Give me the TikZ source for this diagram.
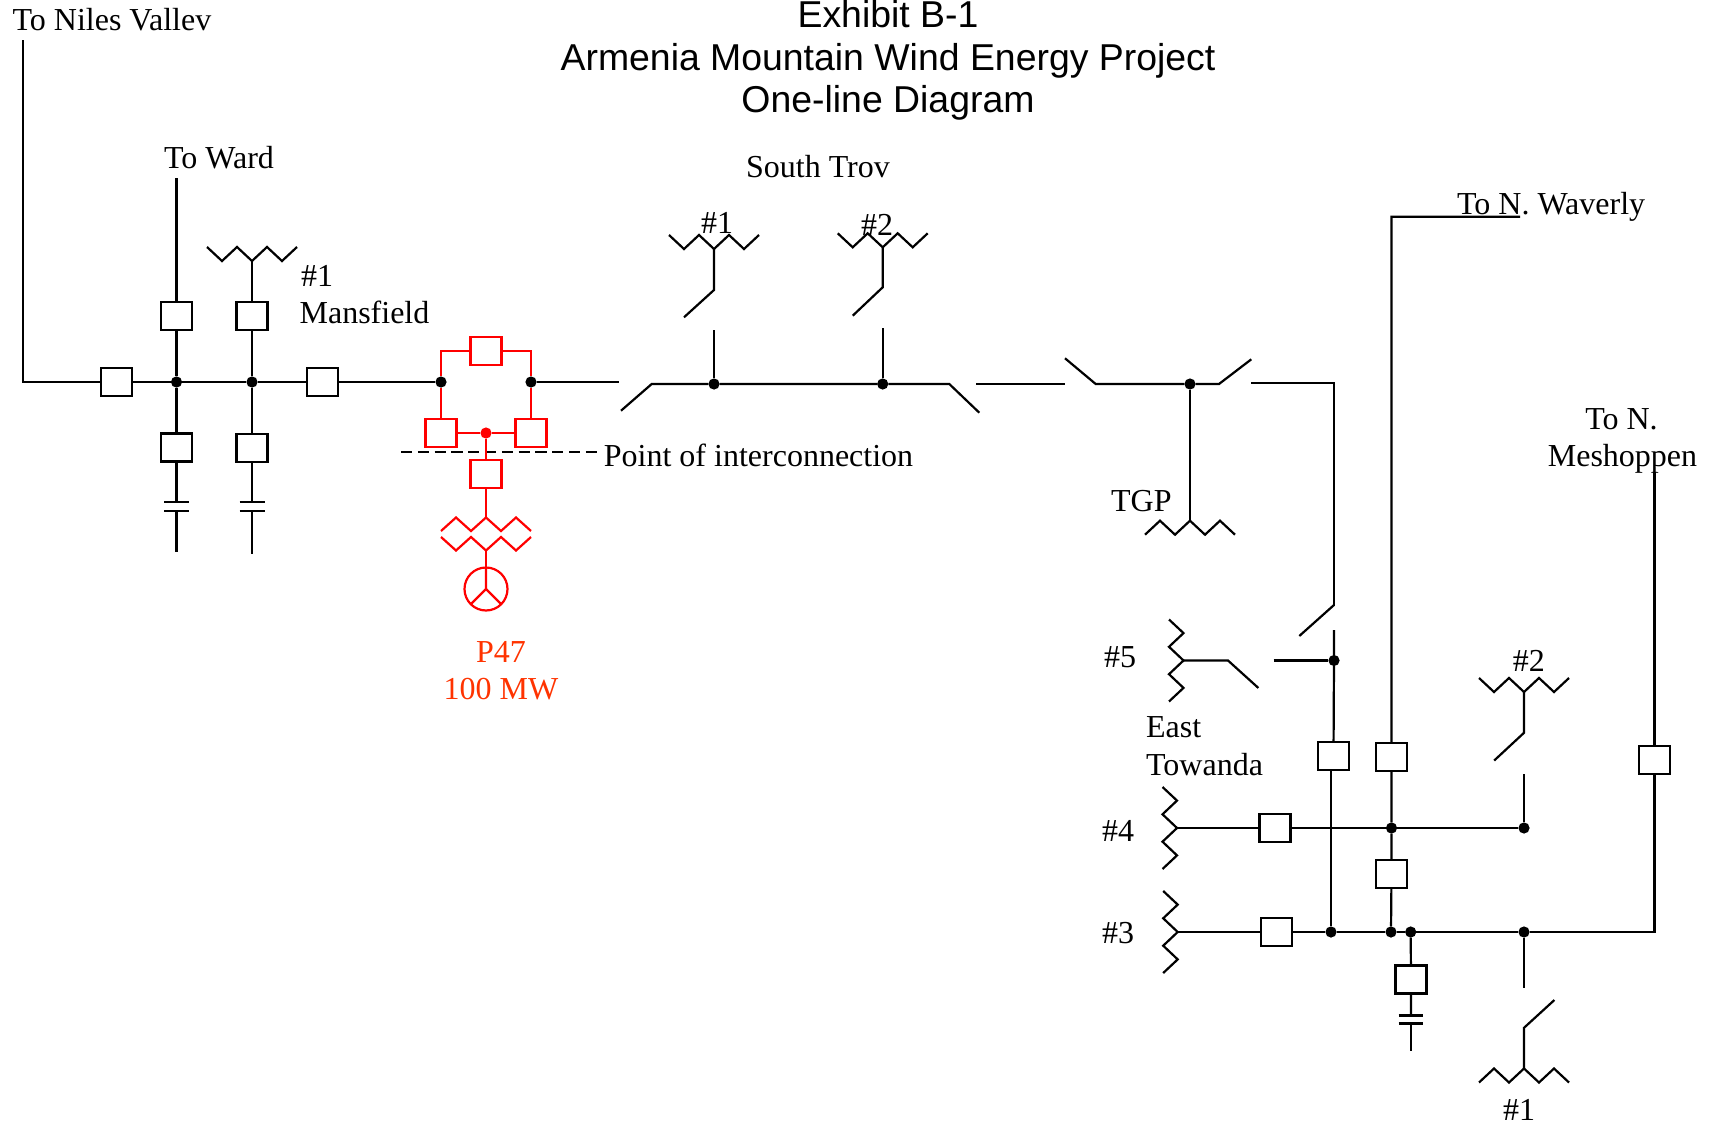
\documentclass[tikz,border=0pt]{standalone}
\usepackage{fontspec}
\setmainfont{Liberation Serif}
\newfontfamily\titlefont{Liberation Sans}
\definecolor{pred}{RGB}{255,0,0}
\definecolor{plabel}{RGB}{255,51,0}
\tikzset{
  every path/.style={line width=1.1pt},
  brk/.style={draw, fill=white, line width=1.1pt, minimum width=15.5pt, minimum height=14pt, inner sep=0pt, outer sep=0pt},
  jdot/.style={circle, fill=black, inner sep=0pt, outer sep=0pt, minimum size=5.6pt},
  lbl/.style={inner sep=0pt, anchor=base west, font=\fontsize{16pt}{18pt}\selectfont},
  ttl/.style={inner sep=0pt, anchor=base, font=\titlefont\fontsize{18.7pt}{21pt}\selectfont},
  xfmr/.pic={\draw (-45,-14)--(-30,0)--(-15,-14)--(0,0)--(15,-14)--(30,0)--(45,-14);},
  xfmrv/.pic={\draw (-41,-14.5)--(-27.4,0)--(-13.7,-14.5)--(0,0)--(13.7,-14.5)--(27.4,0)--(41,-14.5);},
}
\begin{document}
\begin{tikzpicture}[x=0.5pt,y=-0.5pt]
\useasboundingbox (0,0) rectangle (1709,1124);
% ---------- title ----------
\node[ttl] (t1) at (888,27) {Exhibit B-1};
\node[ttl] (t2) at (888,70) {Armenia Mountain Wind Energy Project};
\node[ttl] (t3) at (888,112) {One-line Diagram};
% ---------- Mansfield ----------
\node[lbl] (lnv) at (11.5,30.6) {To Niles Vallev};
\node[lbl] (lward) at (163,168) {To Ward};
\node[lbl] (lm1) at (300,286) {\#1};
\node[lbl] (lmans) at (298.5,323) {Mansfield};
\coordinate (nv) at (23,40);
\coordinate (nvc) at (23,382);
\node[brk] (bA) at (116.5,382) {};
\node[jdot] (d1) at (176.5,382) {};
\node[jdot] (d2) at (252,382) {};
\node[brk] (bB) at (322.5,382) {};
\node[jdot] (rl) at (441,382) {};
\node[jdot] (rr) at (531,382) {};
\draw (nv) -- (nvc) -- (bA) -- (d1) -- (d2) -- (bB) -- (rl);
\coordinate (tw) at (176.5,178);
\node[brk] (bC) at (176.5,316) {};
\node[brk] (bE) at (176.5,447.5) {};
\coordinate (c1t) at (176.5,502);
\coordinate (c1b) at (176.5,511);
\coordinate (c1e) at (176.5,552);
\draw (tw) -- (bC) -- (d1) -- (bE) -- (c1t);
\draw (164,502) -- (189,502) (164,511) -- (189,511);
\draw (c1b) -- (c1e);
\coordinate (m1x) at (252,261);
\pic at (m1x) {xfmr};
\node[brk] (bF) at (252,316) {};
\node[brk] (bG) at (252,448) {};
\coordinate (c2t) at (252,502);
\coordinate (c2b) at (252,511);
\coordinate (c2e) at (252,554);
\draw (m1x) -- (bF) -- (d2) -- (bG) -- (c2t);
\draw (239.5,502) -- (264.5,502) (239.5,511) -- (264.5,511);
\draw (c2b) -- (c2e);
% ---------- P47 (red) ----------
\node[brk, draw=pred] (rT) at (486,351) {};
\node[brk, draw=pred] (rL) at (441,433) {};
\node[brk, draw=pred] (rR) at (531,433) {};
\node[jdot, fill=pred] (rc) at (486,433) {};
\node[brk, draw=pred] (rG) at (486,474) {};
\coordinate (poiL) at (401,452.3);
\coordinate (poiR) at (600,452.3);
\draw[line width=0.9pt, dash pattern=on 5.6pt off 2.8pt] (poiL) -- (poiR);
\node[lbl] (lpoi) at (602.8,466.7) {Point of interconnection};
\draw[pred] (rl) |- (rT);
\draw[pred] (rT) -| (rr);
\draw[pred] (rl) -- (rL);
\draw[pred] (rr) -- (rR);
\draw[pred] (rL) -- (rc) -- (rR);
\draw[pred] (rc) -- (rG);
\coordinate (gzt) at (486,517.5);
\coordinate (gzb) at (486,550.5);
\draw[pred] (rG) -- (gzt);
\draw[pred] (441,531)--(456,517.5)--(471,531)--(486,517.5)--(501,531)--(516,517.5)--(531,531);
\draw[pred] (441,537)--(456,550.5)--(471,537)--(486,550.5)--(501,537)--(516,550.5)--(531,537);
\node[circle, draw=pred, line width=1.1pt, minimum size=21.5pt, inner sep=0pt, outer sep=0pt] (gen) at (486,589) {};
\draw[pred] (gzb) -- (gen.north);
\draw[pred] (gen.north) -- (gen.center) -- (gen.-135);
\draw[pred] (gen.center) -- (gen.-45);
\node[inner sep=0pt, anchor=base, font=\fontsize{16pt}{18pt}\selectfont, text=plabel] (lp47) at (501,662.7) {P47};
\node[inner sep=0pt, anchor=base, font=\fontsize{16pt}{18pt}\selectfont, text=plabel] (lmw) at (501,699) {100 MW};
% ---------- South Troy ----------
\coordinate (st0) at (619,382);
\draw (rr) -- (st0);
\node[lbl] (lst) at (745,177.7) {South Trov};
\node[lbl] (ls1) at (700,233) {\#1};
\node[lbl] (ls2) at (860,235) {\#2};
\coordinate (stA) at (621,410.7);
\coordinate (stB) at (651.7,384);
\node[jdot] (s1) at (714,384) {};
\node[jdot] (s2) at (882.7,384) {};
\coordinate (stC) at (949.3,384);
\coordinate (stD) at (979.3,412.7);
\draw (stA) -- (stB) -- (s1) -- (s2) -- (stC) -- (stD);
\coordinate (s1t) at (714,330);
\draw (s1t) -- (s1);
\coordinate (s1a) at (684,317.3);
\coordinate (s1b) at (714,290);
\coordinate (s1x) at (714,249);
\draw (s1a) -- (s1b) -- (s1x);
\pic at (s1x) {xfmr};
\coordinate (s2t) at (882.7,328);
\draw (s2t) -- (s2);
\coordinate (s2a) at (852.7,315.7);
\coordinate (s2b) at (882.7,287.3);
\coordinate (s2x) at (882.7,247.3);
\draw (s2a) -- (s2b) -- (s2x);
\pic at (s2x) {xfmr};
% ---------- TGP ----------
\coordinate (sgA) at (976,384);
\coordinate (sgB) at (1065,384);
\draw (sgA) -- (sgB);
\coordinate (tgA) at (1065,358.3);
\coordinate (tgB) at (1095.7,384);
\node[jdot] (tg) at (1190,384) {};
\coordinate (tgC) at (1219,384);
\coordinate (tgD) at (1251.3,359.3);
\draw (tgA) -- (tgB) -- (tg) -- (tgC) -- (tgD);
\coordinate (tgx) at (1190,520.7);
\draw (tg) -- (tgx);
\pic[rotate=180] at (tgx) {xfmr};
\node[lbl] (ltgp) at (1110,511.7) {TGP};
% ---------- East Towanda ----------
\coordinate (etA) at (1251.3,383);
\coordinate (etB) at (1334,383);
\coordinate (etC) at (1334,606);
\draw (etA) -- (etB) -- (etC);
\coordinate (etD) at (1299.3,636);
\coordinate (etE) at (1334,605);
\draw (etD) -- (etE);
\coordinate (e5t) at (1334,630);
\node[jdot] (e5) at (1334,660.5) {};
\node[brk] (bE5) at (1333.5,756) {};
\draw (e5t) -- (e5) -- (bE5);
\coordinate (x5) at (1183.5,660.5);
\pic[rotate=90] at (x5) {xfmrv};
\coordinate (x5a) at (1228,660.5);
\coordinate (x5b) at (1258.4,688);
\draw (x5) -- (x5a) -- (x5b);
\coordinate (x5c) at (1273.6,660.5);
\draw (x5c) -- (e5);
\node[lbl] (l5) at (1103,667) {\#5};
\node[lbl] (least) at (1145,737) {East};
\node[lbl] (ltow) at (1145,775.5) {Towanda};
% N. Waverly
\node[lbl] (lnw) at (1456,214) {To N. Waverly};
\coordinate (nw1) at (1520,216.7);
\coordinate (nw2) at (1391.5,216.7);
\node[brk] (bW) at (1391.5,757) {};
\node[jdot] (w4) at (1391.5,828) {};
\node[brk] (bW2) at (1391.5,874) {};
\node[jdot] (w3) at (1391,932) {};
\draw (nw1) -- (nw2) -- (bW) -- (w4) -- (bW2) -- (w3);
% #4
\coordinate (x4) at (1177,828);
\pic[rotate=90] at (x4) {xfmrv};
\node[brk] (b4) at (1275,828) {};
\node[jdot] (r4) at (1524,828) {};
\draw (x4) -- (b4) -- (w4) -- (r4);
\node[lbl] (l4) at (1101,841.5) {\#4};
% right #2
\coordinate (r2a) at (1524,773.8);
\draw (r4) -- (r2a);
\coordinate (r2b) at (1494.2,760.5);
\coordinate (r2c) at (1524,732.8);
\coordinate (r2x) at (1524,692);
\draw (r2b) -- (r2c) -- (r2x);
\pic at (r2x) {xfmr};
\node[lbl] (lr2) at (1511.7,671.2) {\#2};
% #3
\coordinate (x3) at (1177.7,932);
\pic[rotate=90] at (x3) {xfmrv};
\node[brk] (b3) at (1276.5,932) {};
\node[jdot] (e3a) at (1331,932) {};
\node[jdot] (cp) at (1410.7,932) {};
\node[jdot] (r3) at (1524,932) {};
\coordinate (m3) at (1654.5,932);
\node[brk] (bM) at (1654.5,760) {};
\coordinate (mt) at (1654.5,471.7);
\draw (x3) -- (b3) -- (e3a) -- (w3) -- (cp) -- (r3) -- (m3) -- (bM) -- (mt);
\node[lbl] (l3) at (1101,943) {\#3};
\coordinate (e5b) at (1331,770);
\draw (e5b) -- (e3a);
% capacitor
\node[brk] (bcp) at (1411,979.5) {};
\coordinate (cpt) at (1411,1015.4);
\coordinate (cpb) at (1411,1023.4);
\coordinate (cpe) at (1411,1051.2);
\draw (cp) -- (bcp) -- (cpt);
\draw (1398.7,1015.4) -- (1423.3,1015.4) (1398.7,1023.4) -- (1423.3,1023.4);
\draw (cpb) -- (cpe);
% bottom #1
\coordinate (r1a) at (1524,987.7);
\draw (r3) -- (r1a);
\coordinate (r1b) at (1554.4,1000);
\coordinate (r1c) at (1524,1027.8);
\coordinate (r1x) at (1524,1068.5);
\draw (r1b) -- (r1c) -- (r1x);
\pic[rotate=180] at (r1x) {xfmr};
\node[lbl] (lr1) at (1502,1120) {\#1};
% N. Meshoppen
\node[inner sep=0pt, anchor=base, font=\fontsize{16pt}{18pt}\selectfont] (lme1) at (1621.5,429) {To N.};
\node[inner sep=0pt, anchor=base, font=\fontsize{16pt}{18pt}\selectfont] (lme2) at (1622.5,466) {Meshoppen};
\end{tikzpicture}
\end{document}
